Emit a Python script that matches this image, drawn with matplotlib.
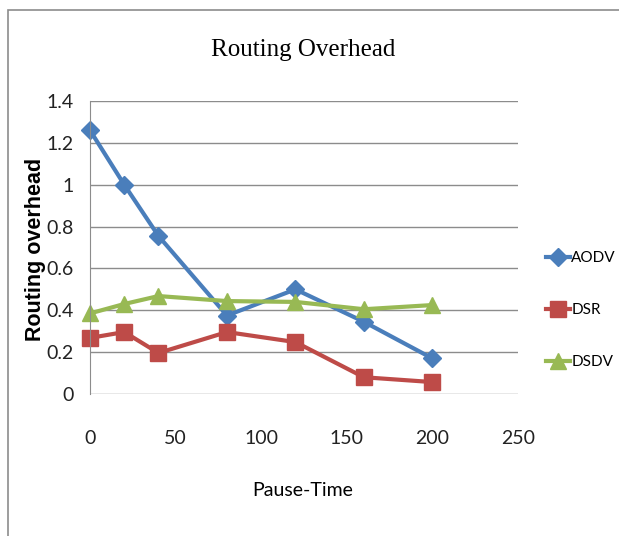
import matplotlib
matplotlib.use("Agg")
import matplotlib.pyplot as plt
from matplotlib.patches import Rectangle

pause_time = [0, 20, 40, 80, 120, 160, 200]
aodv = [1.26, 1.00, 0.755, 0.375, 0.50, 0.345, 0.17]
dsr = [0.268, 0.296, 0.196, 0.296, 0.248, 0.08, 0.057]
dsdv = [0.385, 0.43, 0.468, 0.444, 0.44, 0.405, 0.425]
series_names = ["AODV", "DSR", "DSDV"]
x_ticks = [0, 50, 100, 150, 200, 250]
y_ticks = [0, 0.2, 0.4, 0.6, 0.8, 1.0, 1.2, 1.4]
y_tick_labels = ["0", "0.2", "0.4", "0.6", "0.8", "1", "1.2", "1.4"]

plt.rcParams["font.family"] = ["Lato", "DejaVu Sans"]

W, H = 619, 536
fig = plt.figure(figsize=(W / 100, H / 100), dpi=100)
fig.patch.set_facecolor("white")

# outer chart border
fig.add_artist(Rectangle((8 / W, -0.05), 1.2, 1 - 10 / H + 0.05,
                         transform=fig.transFigure, fill=False,
                         edgecolor="#8c8c8c", linewidth=1.2))

ax = fig.add_axes([90 / W, 1 - 394 / H, (518 - 90) / W, (394 - 101) / H])
ax.set_xlim(0, 250)
ax.set_ylim(0, 1.4)
ax.set_yticks(y_ticks)
ax.set_yticklabels(y_tick_labels)
ax.set_xticks(x_ticks)
ax.yaxis.grid(True, color="#8c8c8c", linewidth=1.0)
ax.set_axisbelow(True)
for s in ["top", "right", "bottom"]:
    ax.spines[s].set_visible(False)
ax.spines["left"].set_color("#8c8c8c")
ax.tick_params(axis="both", length=0, labelsize=14, colors="#222222")
ax.tick_params(axis="x", pad=26)
ax.tick_params(axis="y", pad=12)

colors = ["#4A7EBB", "#BE4B48", "#98B954"]
markers = ["D", "s", "^"]
msizes = [9, 11, 11]
handles = []
for vals, name, c, m, ms in zip([aodv, dsr, dsdv], series_names, colors, markers, msizes):
    ln, = ax.plot(pause_time, vals, color=c, marker=m, markersize=ms,
                  linewidth=3, label=name, clip_on=False)
    handles.append(ln)

fig.text(303 / W, 1 - 50 / H, "Routing Overhead", ha="center", va="center",
         fontsize=18, family=["Liberation Serif", "DejaVu Serif"])
fig.text(303 / W, 1 - 491 / H, "Pause-Time", ha="center", va="center",
         fontsize=14)
fig.text(36 / W, 1 - 249 / H, "Routing overhead", ha="center", va="center",
         rotation=90, fontsize=15.5, fontweight="bold",
         family=["Liberation Sans", "DejaVu Sans"])

leg = fig.legend(handles=handles, loc="upper left",
                 bbox_to_anchor=(546 / W, 1 - 251 / H),
                 frameon=False, fontsize=11, handlelength=1.6,
                 handletextpad=0.05, labelspacing=2.5, borderaxespad=0,
                 borderpad=0)

fig.savefig("out.png", dpi=100, facecolor="white")
